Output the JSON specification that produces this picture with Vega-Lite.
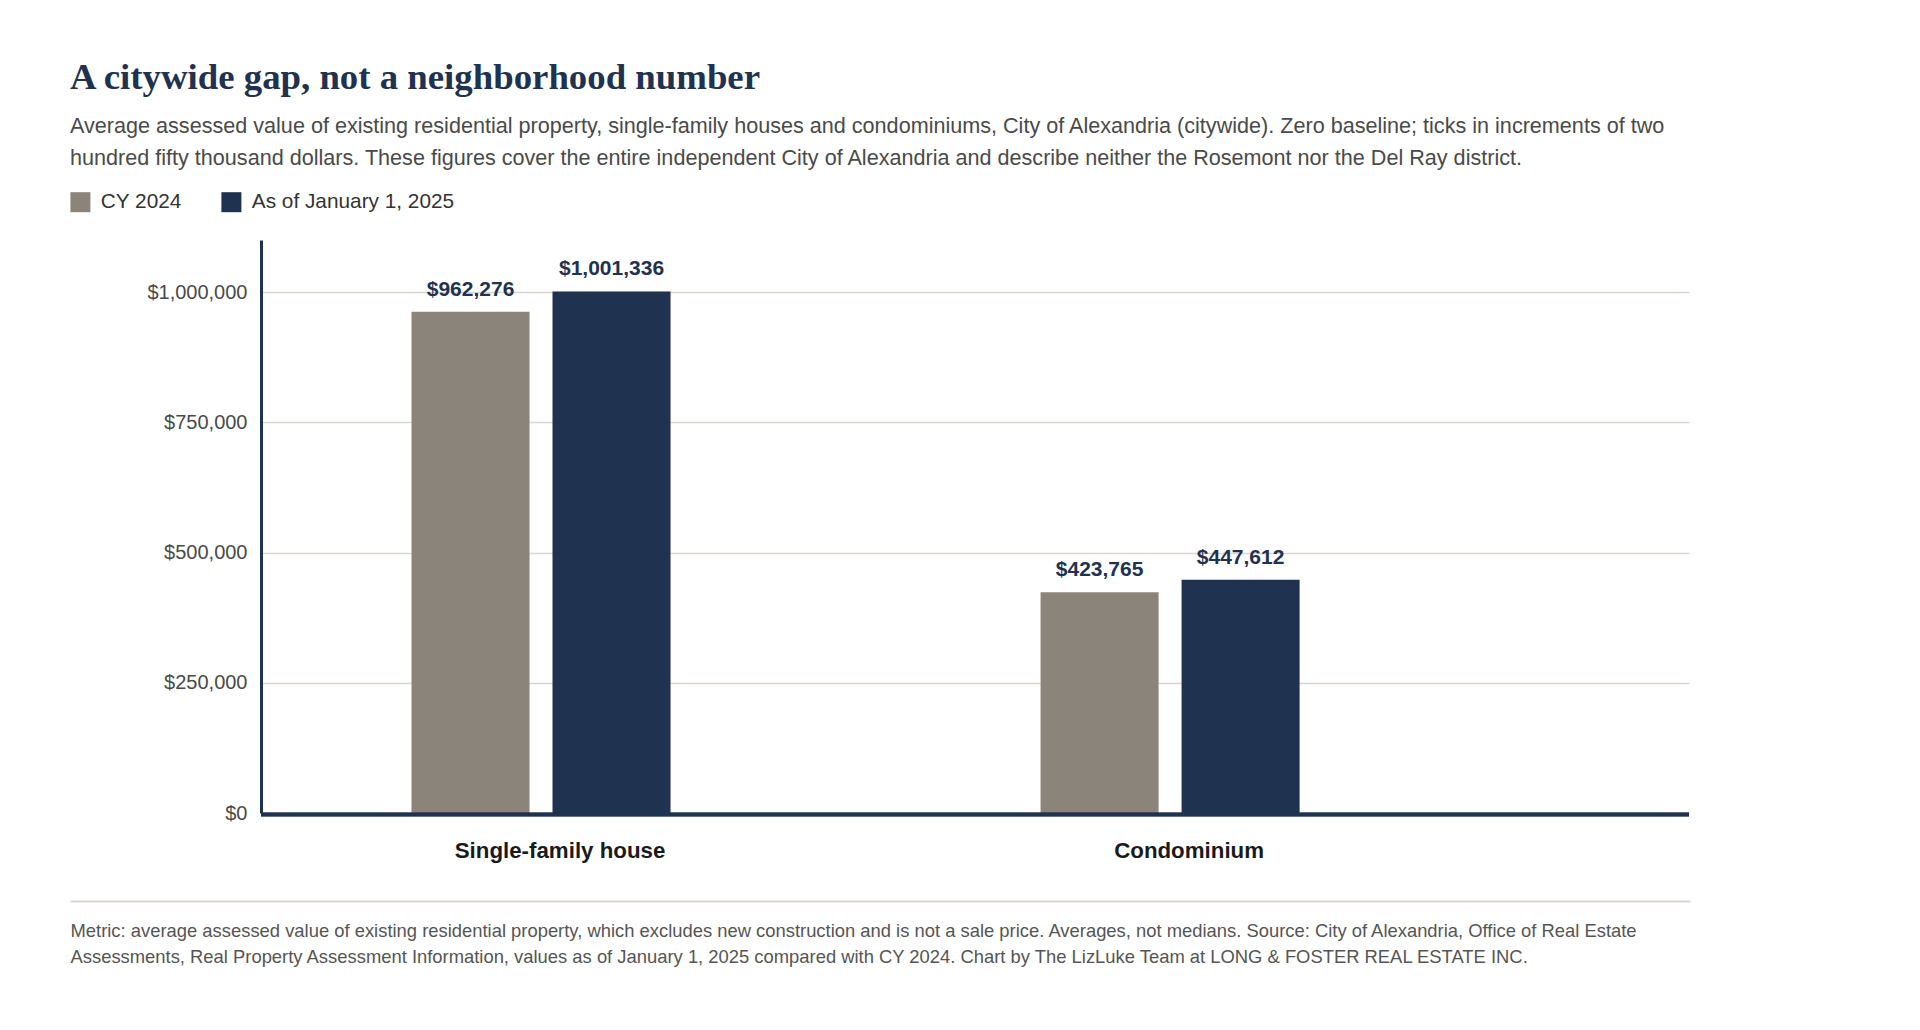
{
  "$schema": "https://vega.github.io/schema/vega-lite/v6.json",
  "autosize": {"type": "none"},
  "padding": {"left": 261, "top": 240, "right": 231, "bottom": 217},
  "width": 1428,
  "height": 573,
  "background": "#ffffff",
  "title": {
    "text": "A citywide gap, not a neighborhood number",
    "subtitle": [
      "Average assessed value of existing residential property, single-family houses and condominiums, City of Alexandria (citywide). Zero baseline; ticks in increments of two",
      "hundred fifty thousand dollars. These figures cover the entire independent City of Alexandria and describe neither the Rosemont nor the Del Ray district."
    ],
    "anchor": "start",
    "frame": "group",
    "dx": -191,
    "offset": 21.7,
    "font": "Liberation Serif",
    "fontSize": 36.8,
    "fontWeight": "bold",
    "color": "#1f3250",
    "subtitleFont": "Liberation Sans",
    "subtitleFontSize": 21.6,
    "subtitleColor": "#4a4a4a",
    "subtitleLineHeight": 32,
    "subtitlePadding": 19
  },
  "data": {
    "values": [
      {"type": "Single-family house", "period": "CY 2024", "value": 962276},
      {"type": "Single-family house", "period": "As of January 1, 2025", "value": 1001336},
      {"type": "Condominium", "period": "CY 2024", "value": 423765},
      {"type": "Condominium", "period": "As of January 1, 2025", "value": 447612}
    ]
  },
  "resolve": {"scale": {"x": "independent"}, "axis": {"x": "independent"}},
  "layer": [
    {
      "encoding": {
        "x": {
          "field": "type",
          "type": "nominal",
          "sort": ["Single-family house", "Condominium"],
          "scale": {"domain": ["Single-family house", "Condominium"], "paddingInner": 0.3, "paddingOuter": 0.285, "align": 0.1669},
          "axis": {
            "title": null,
            "orient": "bottom",
            "domain": false,
            "ticks": false,
            "grid": false,
            "labelFont": "Liberation Sans",
            "labelFontSize": 22.3,
            "labelFontWeight": "bold",
            "labelColor": "#1a1a1a",
            "labelBaseline": "alphabetic",
            "labelPadding": 44,
            "labelOffset": 19,
            "labelAngle": 0,
            "labelLimit": 500
          }
        },
        "xOffset": {
          "field": "period",
          "type": "nominal",
          "sort": ["CY 2024", "As of January 1, 2025"],
          "scale": {"paddingInner": 0.163, "paddingOuter": 0.643}
        },
        "y": {
          "field": "value",
          "type": "quantitative",
          "scale": {"domain": [0, 1100000], "nice": false, "zero": true},
          "axis": {
            "title": null,
            "values": [0, 250000, 500000, 750000, 1000000],
            "format": "$,.0f",
            "labelFont": "Liberation Sans",
            "labelFontSize": 20,
            "labelColor": "#4a4a4a",
            "labelPadding": 14,
            "ticks": false,
            "domain": true,
            "domainColor": "#1f3250",
            "domainWidth": 3,
            "grid": true,
            "gridColor": "#d9d6d1",
            "gridWidth": 1.5
          }
        }
      },
      "layer": [
        {
          "mark": {"type": "bar"},
          "encoding": {
            "color": {
              "field": "period",
              "type": "nominal",
              "sort": ["CY 2024", "As of January 1, 2025"],
              "scale": {"domain": ["CY 2024", "As of January 1, 2025"], "range": ["#8b847a", "#1f3250"]},
              "legend": {
                "title": null,
                "orient": "none",
                "legendX": -191,
                "legendY": -48.5,
                "direction": "horizontal",
                "symbolType": "square",
                "symbolSize": 400,
                "symbolStrokeWidth": 0,
                "symbolOpacity": 1,
                "labelFont": "Liberation Sans",
                "labelFontSize": 20.8,
                "labelColor": "#333333",
                "labelOffset": 10,
                "labelLimit": 500,
                "columnPadding": 39
              }
            }
          }
        },
        {
          "mark": {"type": "text", "baseline": "alphabetic", "dy": -16, "font": "Liberation Sans", "fontSize": 21, "fontWeight": "bold", "color": "#1f3250"},
          "encoding": {
            "text": {"field": "value", "type": "quantitative", "format": "$,.0f"}
          }
        }
      ]
    },
    {
      "mark": {"type": "rule", "color": "#1f3250", "strokeWidth": 3.5, "yOffset": 1.5},
      "encoding": {"y": {"datum": 0, "type": "quantitative"}}
    },
    {
      "mark": {"type": "rule", "strokeOpacity": 0},
      "encoding": {
        "x": {
          "field": "type",
          "type": "nominal",
          "scale": {"domain": ["Single-family house", "Condominium"], "range": [-191, 1429]},
          "axis": {
            "orient": "bottom",
            "offset": 88,
            "domain": true,
            "domainColor": "#d9d6d1",
            "domainWidth": 2,
            "ticks": false,
            "labels": false,
            "grid": false,
            "title": [
              "Metric: average assessed value of existing residential property, which excludes new construction and is not a sale price. Averages, not medians. Source: City of Alexandria, Office of Real Estate",
              "Assessments, Real Property Assessment Information, values as of January 1, 2025 compared with CY 2024. Chart by The LizLuke Team at LONG & FOSTER REAL ESTATE INC."
            ],
            "titleFont": "Liberation Sans",
            "titleFontSize": 18.4,
            "titleFontWeight": "normal",
            "titleColor": "#555555",
            "titleAlign": "left",
            "titleAnchor": "start",
            "titleBaseline": "alphabetic",
            "titleX": -191,
            "titleY": 35,
            "titleLineHeight": 26.7
          }
        }
      }
    }
  ],
  "config": {
    "view": {"stroke": null},
    "font": "Liberation Sans"
  }
}
